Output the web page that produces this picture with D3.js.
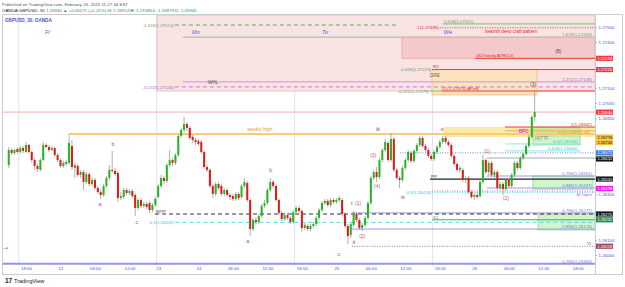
<!DOCTYPE html>
<html>
<head>
<meta charset="utf-8">
<script src="https://cdn.jsdelivr.net/npm/d3@7"></script>
<style>
  body { margin: 0; background: #fff; }
  svg { display: block; font-family: "Liberation Sans", Arial, sans-serif; }
</style>
</head>
<body>
<svg id="chart" width="625" height="287"></svg>
<script>
// 30 min GBPUSD bars, [open, high, low, close], bar index 0 = Thu 15:00
const candles = [
  [1.26592,1.26711,1.26573,1.26691],[1.26691,1.26704,1.26658,1.26671],[1.26671,1.26698,1.26658,1.26691],[1.26698,1.26711,1.26665,1.26678],
  [1.26678,1.26717,1.26665,1.26704],[1.26704,1.26717,1.26671,1.26685],[1.26678,1.26744,1.26671,1.26724],[1.26724,1.26731,1.26665,1.26678],
  [1.26678,1.26685,1.26606,1.26625],[1.26625,1.26638,1.26560,1.26586],[1.26586,1.26599,1.26546,1.26566],[1.26560,1.26638,1.26553,1.26625],
  [1.26625,1.26744,1.26619,1.26724],[1.26724,1.26737,1.26698,1.26711],[1.26711,1.26724,1.26678,1.26691],[1.26691,1.26717,1.26685,1.26704],
  [1.26704,1.26711,1.26645,1.26658],[1.26658,1.26671,1.26612,1.26625],[1.26625,1.26638,1.26573,1.26586],[1.26586,1.26619,1.26573,1.26606],
  [1.26599,1.26625,1.26586,1.26612],[1.26606,1.26803,1.26592,1.26737],[1.26717,1.26757,1.26560,1.26579],[1.26573,1.26606,1.26507,1.26592],
  [1.26586,1.26599,1.26513,1.26527],[1.26527,1.26560,1.26507,1.26546],[1.26546,1.26560,1.26428,1.26481],[1.26481,1.26546,1.26467,1.26533],
  [1.26533,1.26546,1.26454,1.26467],[1.26467,1.26507,1.26454,1.26494],[1.26494,1.26507,1.26428,1.26441],[1.26441,1.26454,1.26402,1.26415],
  [1.26415,1.26434,1.26369,1.26395],[1.26395,1.26467,1.26382,1.26454],[1.26454,1.26520,1.26441,1.26507],[1.26507,1.26592,1.26494,1.26560],
  [1.26560,1.26685,1.26540,1.26553],[1.26553,1.26573,1.26520,1.26533],[1.26540,1.26553,1.26349,1.26375],[1.26375,1.26415,1.26362,1.26388],
  [1.26382,1.26441,1.26369,1.26428],[1.26428,1.26441,1.26395,1.26408],[1.26408,1.26434,1.26395,1.26421],[1.26421,1.26434,1.26375,1.26388],
  [1.26395,1.26408,1.26257,1.26310],[1.26310,1.26375,1.26296,1.26362],[1.26362,1.26375,1.26310,1.26323],[1.26323,1.26349,1.26310,1.26336],
  [1.26336,1.26349,1.26303,1.26316],[1.26342,1.26356,1.26277,1.26296],[1.26296,1.26342,1.26283,1.26329],[1.26329,1.26382,1.26316,1.26369],
  [1.26382,1.26467,1.26369,1.26454],[1.26454,1.26527,1.26441,1.26507],[1.26507,1.26520,1.26467,1.26487],[1.26487,1.26606,1.26474,1.26592],
  [1.26592,1.26691,1.26579,1.26625],[1.26625,1.26638,1.26586,1.26606],[1.26606,1.26671,1.26592,1.26658],[1.26658,1.26796,1.26645,1.26783],
  [1.26783,1.26836,1.26770,1.26823],[1.26823,1.26908,1.26810,1.26862],[1.26862,1.26875,1.26816,1.26836],[1.26836,1.26849,1.26757,1.26770],
  [1.26777,1.26790,1.26737,1.26757],[1.26757,1.26770,1.26724,1.26744],[1.26750,1.26763,1.26717,1.26731],[1.26744,1.26757,1.26665,1.26678],
  [1.26678,1.26691,1.26566,1.26579],[1.26579,1.26592,1.26546,1.26560],[1.26560,1.26573,1.26441,1.26454],[1.26454,1.26467,1.26375,1.26402],
  [1.26402,1.26481,1.26388,1.26467],[1.26467,1.26481,1.26428,1.26441],[1.26454,1.26467,1.26388,1.26402],[1.26402,1.26441,1.26388,1.26428],
  [1.26428,1.26441,1.26382,1.26395],[1.26395,1.26408,1.26362,1.26382],[1.26388,1.26402,1.26356,1.26369],[1.26369,1.26415,1.26356,1.26402],
  [1.26402,1.26415,1.26362,1.26375],[1.26382,1.26467,1.26369,1.26454],[1.26454,1.26507,1.26441,1.26481],[1.26474,1.26487,1.26349,1.26362],
  [1.26362,1.26375,1.26125,1.26171],[1.26171,1.26244,1.26158,1.26231],[1.26231,1.26250,1.26198,1.26217],[1.26217,1.26270,1.26204,1.26257],
  [1.26257,1.26336,1.26244,1.26323],[1.26323,1.26362,1.26310,1.26342],[1.26342,1.26441,1.26329,1.26428],[1.26428,1.26507,1.26415,1.26481],
  [1.26481,1.26494,1.26441,1.26454],[1.26454,1.26467,1.26349,1.26362],[1.26362,1.26375,1.26263,1.26277],[1.26277,1.26290,1.26224,1.26237],
  [1.26237,1.26277,1.26224,1.26263],[1.26263,1.26277,1.26231,1.26244],[1.26244,1.26257,1.26204,1.26217],[1.26217,1.26296,1.26204,1.26283],
  [1.26283,1.26323,1.26270,1.26310],[1.26310,1.26323,1.26277,1.26290],[1.26290,1.26303,1.26152,1.26178],[1.26178,1.26211,1.26165,1.26198],
  [1.26191,1.26204,1.26158,1.26171],[1.26171,1.26204,1.26158,1.26191],[1.26191,1.26217,1.26178,1.26204],[1.26204,1.26257,1.26191,1.26244],
  [1.26244,1.26310,1.26231,1.26296],[1.26296,1.26356,1.26283,1.26342],[1.26342,1.26369,1.26329,1.26356],[1.26356,1.26369,1.26316,1.26329],
  [1.26329,1.26375,1.26316,1.26362],[1.26362,1.26375,1.26336,1.26349],[1.26349,1.26375,1.26336,1.26362],[1.26362,1.26388,1.26349,1.26375],
  [1.26362,1.26375,1.26257,1.26270],[1.26270,1.26283,1.26178,1.26191],[1.26191,1.26204,1.26073,1.26125],[1.26132,1.26217,1.26112,1.26204],
  [1.26198,1.26290,1.26185,1.26270],[1.26270,1.26283,1.26217,1.26231],[1.26231,1.26244,1.26165,1.26178],[1.26178,1.26211,1.26158,1.26198],
  [1.26198,1.26257,1.26185,1.26244],[1.26244,1.26356,1.26231,1.26342],[1.26342,1.26520,1.26329,1.26507],[1.26507,1.26560,1.26494,1.26546],
  [1.26546,1.26579,1.26481,1.26513],[1.26513,1.26638,1.26500,1.26625],[1.26625,1.26704,1.26612,1.26691],[1.26691,1.26763,1.26678,1.26744],
  [1.26737,1.26750,1.26612,1.26625],[1.26625,1.26803,1.26612,1.26763],[1.26763,1.26777,1.26546,1.26560],[1.26560,1.26573,1.26494,1.26507],
  [1.26507,1.26520,1.26441,1.26494],[1.26494,1.26586,1.26481,1.26573],[1.26573,1.26638,1.26560,1.26625],[1.26625,1.26691,1.26612,1.26678],
  [1.26671,1.26685,1.26606,1.26619],[1.26619,1.26698,1.26606,1.26685],[1.26685,1.26737,1.26671,1.26724],[1.26724,1.26783,1.26711,1.26770],
  [1.26770,1.26783,1.26704,1.26717],[1.26717,1.26731,1.26678,1.26691],[1.26691,1.26704,1.26638,1.26652],[1.26652,1.26665,1.26619,1.26632],
  [1.26632,1.26691,1.26619,1.26678],[1.26678,1.26724,1.26665,1.26711],[1.26711,1.26757,1.26698,1.26744],[1.26744,1.26783,1.26731,1.26770],
  [1.26770,1.26783,1.26731,1.26744],[1.26744,1.26757,1.26711,1.26724],[1.26724,1.26737,1.26638,1.26652],[1.26652,1.26665,1.26586,1.26599],
  [1.26599,1.26612,1.26546,1.26560],[1.26560,1.26586,1.26540,1.26573],[1.26560,1.26573,1.26481,1.26494],[1.26494,1.26520,1.26474,1.26507],
  [1.26507,1.26520,1.26402,1.26415],[1.26415,1.26428,1.26369,1.26382],[1.26382,1.26408,1.26362,1.26395],[1.26395,1.26408,1.26369,1.26382],
  [1.26388,1.26494,1.26375,1.26481],[1.26481,1.26658,1.26467,1.26625],[1.26625,1.26638,1.26533,1.26546],[1.26546,1.26619,1.26527,1.26606],
  [1.26606,1.26619,1.26513,1.26527],[1.26527,1.26560,1.26507,1.26546],[1.26546,1.26560,1.26428,1.26441],[1.26441,1.26481,1.26428,1.26467],
  [1.26467,1.26481,1.26395,1.26434],[1.26434,1.26507,1.26421,1.26494],[1.26494,1.26507,1.26441,1.26454],[1.26454,1.26540,1.26441,1.26527],
  [1.26527,1.26619,1.26513,1.26606],[1.26606,1.26619,1.26560,1.26573],[1.26573,1.26652,1.26560,1.26638],[1.26638,1.26678,1.26625,1.26665],
  [1.26665,1.26731,1.26652,1.26717],[1.26717,1.26790,1.26704,1.26777],[1.26777,1.26921,1.26763,1.26908],[1.26908,1.27086,1.26879,1.26940]
];

const priceTicks = [1.275, 1.274, 1.273, 1.272, 1.271, 1.270, 1.269, 1.268, 1.267, 1.266, 1.265, 1.264, 1.263, 1.262, 1.261, 1.260];
const timeTicks = [
  { i: 6, label: "18:00" }, { i: 18, label: "21" }, { i: 30, label: "06:00" }, { i: 42, label: "12:00" },
  { i: 52, label: "23" }, { i: 66, label: "24" }, { i: 78, label: "06:00" }, { i: 90, label: "12:00" },
  { i: 102, label: "18:00" }, { i: 114, label: "25" }, { i: 126, label: "06:00" }, { i: 138, label: "12:00" },
  { i: 150, label: "18:00" }, { i: 162, label: "26" }, { i: 174, label: "06:00" }, { i: 186, label: "12:00" },
  { i: 198, label: "18:00" }
];
const sessionBreaks = [3.5, 51.5, 99.5, 147.5];
const weekdays = [
  { i: 12.6, label: "Fr" }, { i: 63.8, label: "Mo" }, { i: 109, label: "Tu" }, { i: 151.4, label: "We" }
];

// horizontal drawings: price, bar range, label
const levels = [
  { p: 1.27513, from: 57.8, to: 135.4, kind: "greenDash", label: "-0.618(1.27513)", at: "before" },
  { p: 1.27495, from: 150, to: 204, kind: "redDot", label: "-1(1.27495)", at: "before" },
  { p: 1.27521, from: 151, to: 204, kind: "green", label: "1.618(1.27521)", at: "start" },
  { p: 1.27433, from: 60.6, to: 204, kind: "greenGray", label: "1.618(1.27433)", at: "end" },
  { p: 1.27294, from: 162.2, to: 204, kind: "red", label: "161%daily ATR(14)", at: "start" },
  { p: 1.27220, from: 147.3, to: 204, kind: "red", label: "R2", at: "start" },
  { p: 1.27220, from: 147.3, to: 147.3, kind: "green", label: "-0.618(1.27223)", at: "before" },
  { p: 1.27139, from: 60.6, to: 204, kind: "purple", label: "1.272(1.27139)", at: "end" },
  { p: 1.27106, from: 57.8, to: 204, kind: "purpleDash", label: "-0.272(1.27106)", at: "before" },
  { p: 1.27079, from: 150.5, to: 204, kind: "red", label: "(1) 1.27075)  APoB", at: "start" },
  { p: 1.27079, from: 146.6, to: 150.5, kind: "green", label: "-0.472(1.27079)", at: "before" },
  { p: 1.26940, from: -2, to: 204, kind: "lastPrice", label: "", at: "none" },
  { p: 1.26842, from: 172.7, to: 204, kind: "red", label: "1(1.26842)", at: "end" },
  { p: 1.26817, from: 172.7, to: 204, kind: "orange", label: "0.5(1.26817)", at: "endShift" },
  { p: 1.26796, from: 21.3, to: 204, kind: "weekly", label: "", at: "none" },
  { p: 1.26731, from: 172.7, to: 199, kind: "cyan", label: "0.5(1.26746)", at: "end" },
  { p: 1.26685, from: 172.7, to: 199, kind: "cyan", label: "0.618(1.26685)", at: "end" },
  { p: 1.26672, from: 136.1, to: 204, kind: "blueDot", label: "", at: "none" },
  { p: 1.26638, from: 166.4, to: 204, kind: "gray", label: "", at: "none" },
  { p: 1.26520, from: 166.4, to: 204, kind: "lavender", label: "0.786(1.26551)", at: "end" },
  { p: 1.26500, from: 146.6, to: 204, kind: "black", label: "PP", at: "start" },
  { p: 1.26441, from: 166.4, to: 204, kind: "lavender", label: "0.886(1.26437)", at: "end" },
  { p: 1.26421, from: 147.3, to: 204, kind: "magentaDot", label: "M Open", at: "endBelow" },
  { p: 1.26412, from: 147.3, to: 204, kind: "cyanDot", label: "0.5(1.26418)", at: "before" },
  { p: 1.26277, from: 119.4, to: 204, kind: "lavender", label: "0.786(1.26272)", at: "end" },
  { p: 1.26270, from: 50.9, to: 204, kind: "blackDash", label: "WPP", at: "start" },
  { p: 1.26232, from: 147.3, to: 204, kind: "greenS1", label: "S1", at: "start" },
  { p: 1.26215, from: 58, to: 204, kind: "cyanDash", label: "0.5(1.26231)", at: "before" },
  { p: 1.26171, from: 119.4, to: 204, kind: "lavender", label: "0.886(1.26174)", at: "end" },
  { p: 1.26058, from: 119.4, to: 204, kind: "maroonDot", label: "YL", at: "end" },
  { p: 1.25943, from: -2, to: 204, kind: "blueThick", label: "0.786(1.25943)", at: "end" }
];

// rectangles: top price, bottom price, bar range
const zones = [
  { p0: 1.27579, p1: 1.27079, from: 51.6, to: 204, kind: "pinkZone" },
  { p0: 1.27433, p1: 1.27294, from: 136.8, to: 204, kind: "pinkBox" },
  { p0: 1.27220, p1: 1.27053, from: 147.3, to: 183.8, kind: "dre" },
  { p0: 1.26842, p1: 1.26776, from: 151.1, to: 204, kind: "yellow" },
  { p0: 1.26842, p1: 1.26724, from: 182.4, to: 198.8, kind: "greenBox" },
  { p0: 1.26520, p1: 1.26434, from: 182.4, to: 203.3, kind: "greenBox" },
  { p0: 1.26270, p1: 1.26165, from: 184.2, to: 204, kind: "greenBox" }
];

// text notes: bar index, price, text
const notes = [
  { i: 165.7, p: 1.27461, text: "bearish deep crab pattern", kind: "redNote" },
  { i: 191.2, p: 1.27329, text: "(B)", kind: "darkNote" },
  { i: 71.1, p: 1.27122, text: "WHL", kind: "darkNote" },
  { i: 148.3, p: 1.27171, text: "DRE", kind: "dre" },
  { i: 182.4, p: 1.27112, text: "(3)", kind: "darkNote" },
  { i: 83, p: 1.26816, text: "weekly high", kind: "weekly" },
  { i: 179.2, p: 1.26803, text: "BPC", kind: "bpc" },
  { i: 183, p: 1.26757, text: "(4)TTF", kind: "grayNote" },
  { i: 201.4, p: 1.26795, text: "HL", kind: "orangeNote" },
  { i: 166.4, p: 1.26671, text: "(1)", kind: "wave" },
  { i: 173, p: 1.26362, text: "(2)", kind: "wave" },
  { i: 150.8, p: 1.26816, text: "v", kind: "minor" },
  { i: 137.2, p: 1.26369, text: "iv", kind: "minor" },
  { i: 128.5, p: 1.26816, text: "iii", kind: "minor" },
  { i: 126.8, p: 1.26645, text: "(3)", kind: "wave" },
  { i: 128.2, p: 1.26441, text: "(4)", kind: "wave" },
  { i: 119.4, p: 1.26329, text: "i", kind: "minor" },
  { i: 121.6, p: 1.26329, text: "(1)", kind: "wave" },
  { i: 123, p: 1.26112, text: "(2)", kind: "wave" },
  { i: 120.1, p: 1.26073, text: "ii", kind: "minor" },
  { i: 31.8, p: 1.26322, text: "a", kind: "abc" },
  { i: 36.3, p: 1.26717, text: "b", kind: "abc" },
  { i: 44.6, p: 1.26204, text: "c", kind: "abc" },
  { i: 83.2, p: 1.26079, text: "a", kind: "abc" },
  { i: 91.2, p: 1.26546, text: "b", kind: "abc" },
  { i: 114.9, p: 1.25993, text: "c", kind: "abc" },
  { i: -1.3, p: 1.26033, text: "⇢", kind: "abc" }
];

// price badges on the right scale
const badges = [
  { p: 1.27294, label: "1.27294", kind: "red" },
  { p: 1.27220, label: "1.27220", kind: "red" },
  { p: 1.26940, label: "1.26940", kind: "red" },
  { p: 1.26776, label: "1.26776", kind: "yellow" },
  { p: 1.26740, label: "1.26740", kind: "yellow" },
  { p: 1.26672, label: "1.26672", kind: "blue" },
  { p: 1.26632, label: "1.26632", kind: "black" },
  { p: 1.26500, label: "1.26500", kind: "black" },
  { p: 1.26438, label: "1.26438", kind: "magenta" },
  { p: 1.26270, label: "1.26270", kind: "black" },
  { p: 1.26232, label: "1.26232", kind: "green" },
  { p: 1.26058, label: "1.26058", kind: "maroon" }
];

const levelStyle = {
  greenDash: { c: "#86c486", w: 1.6, d: "4,3", t: "#6aa86a" },
  redDot: { c: "#e04040", w: 1, d: "1,1.5", t: "#d03030" },
  green: { c: "#8fc98f", w: 1.2, t: "#5f9f5f" },
  greenGray: { c: "#b2ccb2", w: 1.6, t: "#6f9f6f" },
  red: { c: "#f03c3c", w: 1, t: "#e02828" },
  purple: { c: "#cf92e6", w: 1, t: "#a566c8" },
  purpleDash: { c: "#c07ce0", w: 1, d: "4,3", t: "#a566c8" },
  lastPrice: { c: "#f7c0c0", w: 1.2, t: "#e06060" },
  weekly: { c: "#f6cc7a", w: 2, t: "#e0a030" },
  orange: { c: "#f2b046", w: 1, t: "#e49a20" },
  cyan: { c: "#8ce6ec", w: 1, t: "#3cc8d0" },
  cyanDash: { c: "#4fdce4", w: 1, d: "4,3", t: "#2cc6d0" },
  cyanDot: { c: "#4fdce4", w: 1, d: "1,1.5", t: "#2cc6d0" },
  blueDot: { c: "#5a86d6", w: 1, d: "1,1.5", t: "#5a86d6" },
  gray: { c: "#a4a9b0", w: 1, t: "#888" },
  black: { c: "#222", w: 1.2, t: "#333" },
  blackDash: { c: "#333", w: 1.2, d: "4,3", t: "#444" },
  lavender: { c: "#9a9aea", w: 1, t: "#7a7ad8" },
  magentaDot: { c: "#e34be3", w: 1, d: "1,1.5", t: "#e040e0" },
  maroonDot: { c: "#bb6a86", w: 1, d: "1,1.5", t: "#a04868" },
  blueThick: { c: "#9393ec", w: 2, t: "#7a7ad8" },
  greenS1: { c: "#4aa56a", w: 1, t: "#3a955a" }
};
const zoneStyle = {
  pinkZone: { f: "#f9e3e3", s: "#f2b3b3" },
  pinkBox: { f: "#f3c9c9", s: "#eba9a9" },
  dre: { f: "#fbe3c0", s: "#f3c070" },
  yellow: { f: "#fbeaa8", s: "none" },
  greenBox: { f: "rgba(150,230,140,0.45)", s: "#8fdc8f" }
};
const noteStyle = {
  redNote: { c: "#d83030", s: 4.6 },
  darkNote: { c: "#555", s: 4.6 },
  dre: { c: "#7a6a55", s: 5, italic: true },
  weekly: { c: "#e0a030", s: 4.8 },
  bpc: { c: "#e63ce6", s: 4.8, bold: true },
  grayNote: { c: "#888", s: 4.6 },
  orangeNote: { c: "#e49a20", s: 4.2 },
  wave: { c: "#c86060", s: 5 },
  minor: { c: "#8b1a1a", s: 5 },
  abc: { c: "#c83cc8", s: 5.5 }
};
const badgeStyle = {
  red: { f: "#f23645", t: "#fff" }, yellow: { f: "#f5be2e", t: "#222" },
  blue: { f: "#3f7fd6", t: "#fff" }, black: { f: "#131722", t: "#fff" },
  magenta: { f: "#f018f0", t: "#fff" }, green: { f: "#1e8a50", t: "#fff" },
  maroon: { f: "#a24466", t: "#fff" }
};

const svg = d3.select("#chart");
const plot = { left: 3, right: 595, top: 15, bottom: 266 };
const x = d3.scaleLinear().domain([-2, 204]).range([plot.left, plot.right]);
const y = d3.scaleLinear().domain([1.25928, 1.27579]).range([plot.bottom, plot.top]);

svg.append("defs").append("clipPath").attr("id", "plotclip")
  .append("rect").attr("x", plot.left).attr("y", plot.top)
  .attr("width", plot.right - plot.left).attr("height", plot.bottom - plot.top);

// header
const head = svg.append("g").attr("font-size", 4.4).attr("fill", "#555");
head.append("text").attr("x", 2).attr("y", 6).text("Published on TradingView.com, February 26, 2025 11:27:34 EST");
const line2 = head.append("text").attr("x", 2).attr("y", 12).attr("fill", "#222");
line2.append("tspan").text("OANDA:GBPUSD, 30  ");
line2.append("tspan").attr("fill", "#089981").text("1.26940 ▲ +0.00271 (+0.21%)");
[["O:", "1.26914"], ["H:", "1.27086"], ["L:", "1.26879"], ["C:", "1.26940"]].forEach(([k, v]) => {
  line2.append("tspan").text("  " + k + " ");
  line2.append("tspan").attr("fill", "#089981").text(v);
});

// frame
svg.append("rect").attr("x", 2.5).attr("y", 14.5).attr("width", 620).attr("height", 260)
  .attr("fill", "none").attr("stroke", "#c9ccd3");
svg.append("line").attr("x1", plot.right + 0.5).attr("x2", plot.right + 0.5)
  .attr("y1", 14.5).attr("y2", 274.5).attr("stroke", "#c9ccd3");

const g = svg.append("g").attr("clip-path", "url(#plotclip)");

// session separators
g.append("g").selectAll("line").data(sessionBreaks).join("line")
  .attr("x1", d => x(d)).attr("x2", d => x(d))
  .attr("y1", plot.top).attr("y2", plot.bottom)
  .attr("stroke", "#dde3ef").attr("stroke-width", 1);

// zones
g.append("g").selectAll("rect").data(zones).join("rect")
  .attr("x", d => x(d.from)).attr("width", d => x(d.to) - x(d.from))
  .attr("y", d => y(d.p0)).attr("height", d => y(d.p1) - y(d.p0))
  .attr("fill", d => zoneStyle[d.kind].f).attr("stroke", d => zoneStyle[d.kind].s).attr("stroke-width", 0.8);

// weekday labels
g.append("g").selectAll("text").data(weekdays).join("text")
  .attr("x", d => x(d.i)).attr("y", y(1.27455))
  .attr("font-size", 5.5).attr("fill", "#5560d8").attr("font-style", "italic").text(d => d.label);

// levels
g.append("g").selectAll("line").data(levels).join("line")
  .attr("x1", d => x(d.from)).attr("x2", d => x(d.to))
  .attr("y1", d => y(d.p)).attr("y2", d => y(d.p))
  .attr("stroke", d => levelStyle[d.kind].c)
  .attr("stroke-width", d => levelStyle[d.kind].w)
  .attr("stroke-dasharray", d => levelStyle[d.kind].d || null);

// candles
const bw = (x(1) - x(0)) * 0.7;
const cg = g.append("g");
cg.selectAll("line").data(candles).join("line")
  .attr("x1", (d, i) => x(i)).attr("x2", (d, i) => x(i))
  .attr("y1", d => y(d[1])).attr("y2", d => y(d[2]))
  .attr("stroke", "#9a9a9a").attr("stroke-width", 0.8);
cg.selectAll("rect").data(candles).join("rect")
  .attr("x", (d, i) => x(i) - bw / 2).attr("width", bw)
  .attr("y", d => y(Math.max(d[0], d[3])))
  .attr("height", d => Math.max(0.8, Math.abs(y(d[0]) - y(d[3]))))
  .attr("fill", d => d[3] >= d[0] ? "#22b622" : "#e01818");

// level labels
const labelX = d => d.at === "before" ? x(d.from) - 1
  : d.at === "start" ? x(d.from) + 1
  : d.at === "endShift" ? x(d.to) - 12 : x(d.to) - 3;
const labelY = d => d.at === "before" ? y(d.p) + 1.6
  : d.at === "endBelow" ? y(d.p) + 5
  : d.at === "endShift" ? y(d.p) + 3.2 : y(d.p) - 1.2;
g.append("g").selectAll("text").data(levels.filter(d => d.at !== "none")).join("text")
  .attr("font-size", 4.4)
  .attr("fill", d => levelStyle[d.kind].t)
  .attr("text-anchor", d => (d.at === "start") ? "start" : "end")
  .attr("x", labelX).attr("y", labelY)
  .text(d => d.label);

// notes
g.append("g").selectAll("text").data(notes).join("text")
  .attr("x", d => x(d.i)).attr("y", d => y(d.p))
  .attr("text-anchor", d => d.kind === "redNote" || d.kind === "weekly" || d.kind === "grayNote" ? "start" : "middle")
  .attr("font-size", d => noteStyle[d.kind].s)
  .attr("font-style", d => noteStyle[d.kind].italic ? "italic" : null)
  .attr("font-weight", d => noteStyle[d.kind].bold ? "bold" : null)
  .attr("fill", d => noteStyle[d.kind].c)
  .text(d => d.text);

// symbol label
svg.append("text").attr("x", 5).attr("y", 22).attr("font-size", 4.6).attr("font-weight", "bold")
  .attr("fill", "#4b55cf").text("GBPUSD, 30, OANDA");

// price axis, labels hidden where a badge covers them
const yAxis = svg.append("g").attr("transform", `translate(${plot.right},0)`)
  .call(d3.axisRight(y).tickValues(priceTicks).tickFormat(d3.format(".5f")).tickSize(2));
yAxis.select(".domain").remove();
yAxis.selectAll("line").attr("stroke", "#b0b4c0");
yAxis.selectAll("text").attr("font-size", 4.4).attr("fill", "#4a55d0").attr("x", 3.5);
yAxis.selectAll(".tick").filter(t => badges.some(b => Math.abs(y(b.p) - y(t)) < 5.5)).remove();

// time axis
const xAxis = svg.append("g").attr("transform", `translate(0,${plot.bottom})`)
  .call(d3.axisBottom(x).tickValues(timeTicks.map(d => d.i))
    .tickFormat((d, k) => timeTicks[k].label).tickSize(0));
xAxis.select(".domain").remove();
xAxis.selectAll("text").attr("font-size", 4.4).attr("fill", "#4a55d0").attr("dy", "0.55em").attr("y", 2);

// badges
const bg = svg.append("g").selectAll("g").data(badges).join("g")
  .attr("transform", d => `translate(${plot.right + 1},${y(d.p)})`);
bg.append("rect").attr("x", 0).attr("y", -2.6).attr("width", 17).attr("height", 5.2)
  .attr("fill", d => badgeStyle[d.kind].f);
bg.append("text").attr("x", 1.4).attr("y", 1.5).attr("font-size", 4.1)
  .attr("fill", d => badgeStyle[d.kind].t).text(d => d.label);

// footer logo
const foot = svg.append("g").attr("transform", "translate(5,283)");
foot.append("text").attr("font-size", 6.5).attr("font-weight", "bold").attr("fill", "#131722").text("17");
foot.append("text").attr("x", 9).attr("font-size", 5.5).attr("fill", "#131722").text("TradingView");
</script>
</body>
</html>
